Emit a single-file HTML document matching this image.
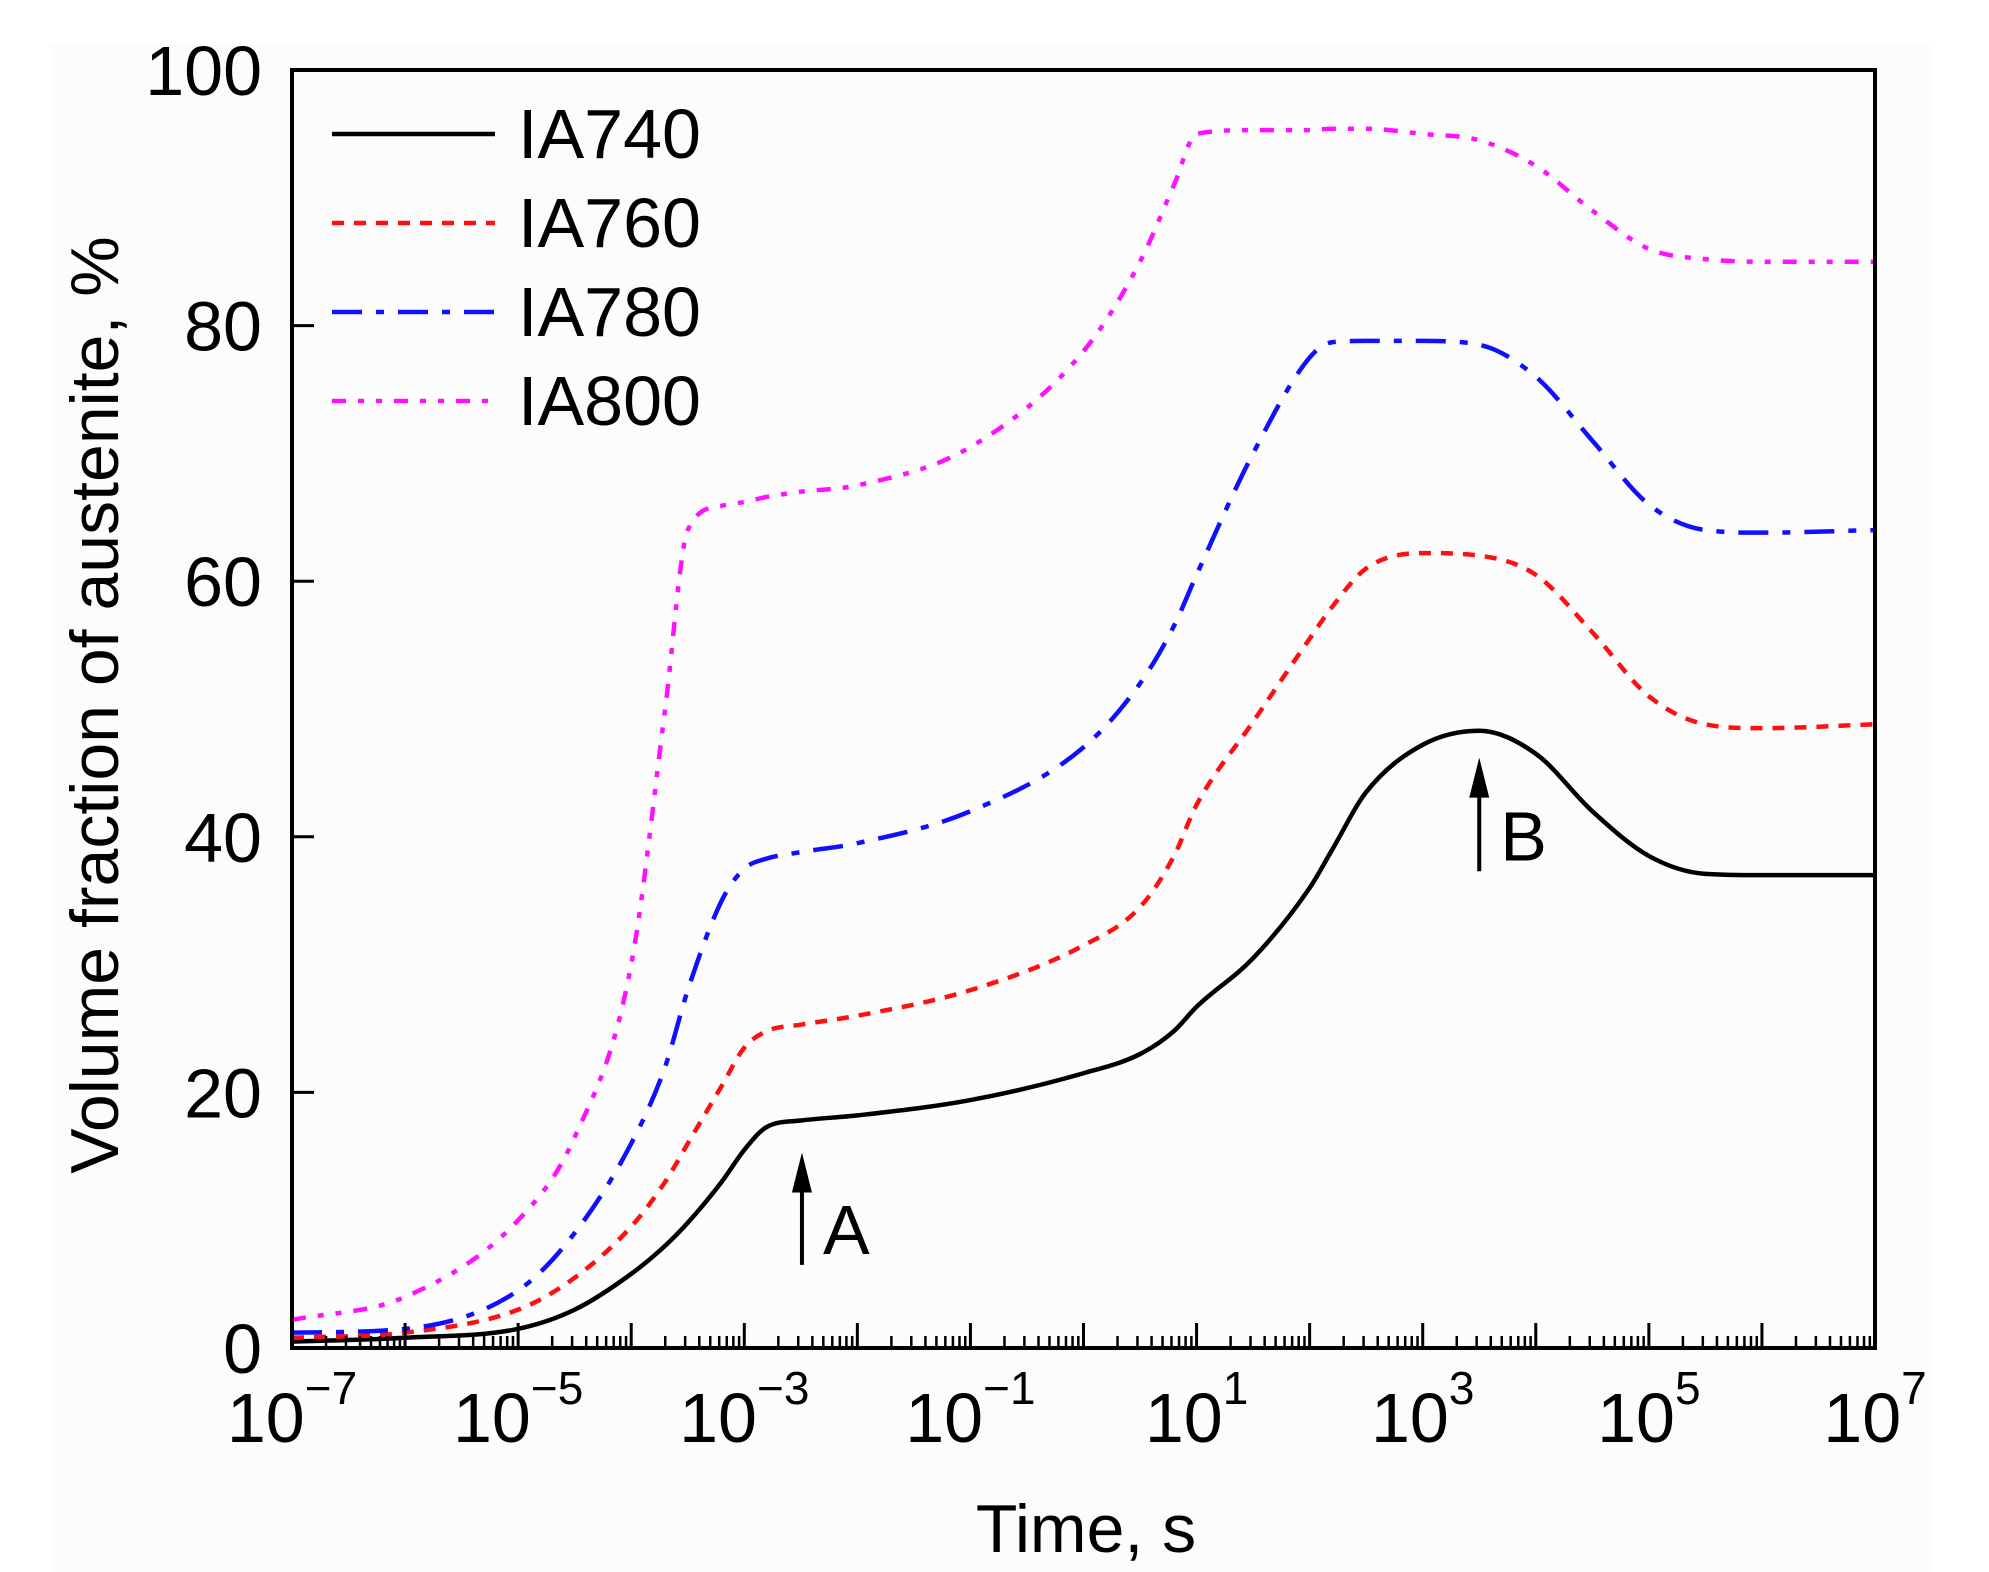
<!DOCTYPE html>
<html><head><meta charset="utf-8"><style>
html,body{margin:0;padding:0;background:#fff;}
svg{display:block;font-family:"Liberation Sans",sans-serif;}
</style></head><body>
<svg id="chart" width="1989" height="1572" viewBox="0 0 1989 1572" xmlns="http://www.w3.org/2000/svg">
<rect x="50" y="45" width="1880" height="1527" fill="#fcfcfc"/>
<g id="plot"></g>
</svg>
<script>
const xLogs = [-7,-6,-5,-4.5,-4,-3.7,-3.5,-3.2,-3,-2.8,-2.5,-2,-1,0,0.5,0.8,1,1.5,2,2.2,2.5,3,3.5,4,4.5,5,5.5,6,7];
const ia740 = [0.5,0.8,1.5,3,5.8,8,9.8,13,15.5,17.3,17.8,18.2,19.4,21.5,23,24.8,26.7,30.5,36,39,43.5,47.2,48.3,46.5,42,38.5,37.1,37,37];
const ia760 = [0.8,1.2,3,5.5,9.5,13,16,20.5,23.5,24.8,25.3,26,28,31.5,34.5,38.5,42.5,49,55.5,58,61,62.2,62,60.5,56,51,48.8,48.5,48.8];
const ia780 = [1.2,1.5,4.5,9,16,22,28,35,37.5,38.3,38.8,39.5,42,47,52,56.5,60.5,70,77.5,78.7,78.8,78.8,78.5,76,71,66,64,63.8,64];
const ia800 = [2.2,4,10,16.5,30,50,64,65.9,66.2,66.6,67,67.5,70.5,78,85,91,95,95.3,95.3,95.4,95.4,95,94.5,92.5,89,86,85.2,85,85];
const xTickExps = [-7,-5,-3,-1,1,3,5,7];
const yTicks = [0,20,40,60,80,100];
const legendNames = ["IA740","IA760","IA780","IA800"];
const arrowA = [-2.49, 6.5, 15.3];
const arrowB = [3.5, 37.3, 46.2];

const NS="http://www.w3.org/2000/svg";
const L=292,R=1875,T=70,B=1348;
const sx=v=>L+(v+7)/14*(R-L);
const sy=v=>B-v/100*(B-T);
const g=document.getElementById('plot');
function mk(tag,attrs,parent){const e=document.createElementNS(NS,tag);for(const k in attrs)e.setAttribute(k,attrs[k]);(parent||g).appendChild(e);return e;}

const series=[
 {d:ia740,c:"#000",dash:"",n:"ia740-line"},
 {d:ia760,c:"#ff1010",dash:"12 10",n:"ia760-line"},
 {d:ia780,c:"#1010ff",dash:"30 14 8 14",n:"ia780-line"},
 {d:ia800,c:"#ff10ff",dash:"14 12 6 12 6 12",n:"ia800-line"}];
// monotone cubic (Fritsch-Carlson)
function pathFor(d){
  const xs=xLogs.map(sx), ys=d.map(sy), n=xs.length;
  const dl=[],m=new Array(n);
  for(let i=0;i<n-1;i++) dl.push((ys[i+1]-ys[i])/(xs[i+1]-xs[i]));
  m[0]=dl[0]; m[n-1]=dl[n-2];
  for(let i=1;i<n-1;i++){ m[i]=(dl[i-1]*dl[i]<=0)?0:(dl[i-1]+dl[i])/2; }
  for(let i=0;i<n-1;i++){
    if(dl[i]===0){m[i]=0;m[i+1]=0;continue;}
    const a=m[i]/dl[i],b=m[i+1]/dl[i],s=a*a+b*b;
    if(s>9){const t=3/Math.sqrt(s);m[i]=t*a*dl[i];m[i+1]=t*b*dl[i];}
  }
  let p="M"+xs[0]+","+ys[0];
  for(let i=0;i<n-1;i++){
    const h=(xs[i+1]-xs[i])/3;
    p+=" C"+(xs[i]+h)+","+(ys[i]+m[i]*h)+" "+(xs[i+1]-h)+","+(ys[i+1]-m[i+1]*h)+" "+xs[i+1]+","+ys[i+1];
  }
  return p;
}
series.forEach(s=>{
  const e=mk('path',{d:pathFor(s.d),fill:"none",stroke:s.c,"stroke-width":4.5,"stroke-dasharray":s.dash});
  
  
});

const fr=mk('rect',{x:L,y:T,width:R-L,height:B-T,fill:"none",stroke:"#000","stroke-width":4});



for(let e=-7;e<7;e++){
  const mj=mk('line',{x1:sx(e),x2:sx(e),y1:B,y2:B-25,stroke:"#000","stroke-width":3});
  
  
  for(let m=2;m<10;m++){
    const xx=sx(e+Math.log10(m));
    const mn=mk('line',{x1:xx,x2:xx,y1:B,y2:B-12,stroke:"#000","stroke-width":2.5});
    
    
  }
}
xTickExps.forEach(e=>{
  const t=mk('text',{x:sx(e),y:1442,"text-anchor":"middle","font-size":70,fill:"#000"});
  
  
  t.appendChild(document.createTextNode("10"));
  const sp=mk('tspan',{dy:-38,"font-size":46},t);
  sp.textContent=(e<0?"\u2212":"")+Math.abs(e);
});
yTicks.forEach(v=>{
  const tk=mk('line',{x1:L,x2:L+22,y1:sy(v),y2:sy(v),stroke:"#000","stroke-width":3});
  
  
  const t=mk('text',{x:262,y:sy(v)+25,"text-anchor":"end","font-size":70,fill:"#000"});
  t.textContent=v;
  
  
});
const xt=mk('text',{x:1086,y:1552,"text-anchor":"middle","font-size":68,fill:"#000"});
xt.textContent="Time, s";


const yt=mk('text',{x:0,y:0,"text-anchor":"middle","font-size":68,fill:"#000",transform:"translate(118,705) rotate(-90)"});
yt.textContent="Volume fraction of austenite, %";



legendNames.forEach((n,i)=>{
  const y=134+i*89;
  const ln=mk('line',{x1:332,x2:495,y1:y,y2:y,stroke:series[i].c,"stroke-width":4.5,"stroke-dasharray":series[i].dash});
  
  
  const t=mk('text',{x:518,y:y+24,"font-size":70,fill:"#000"});
  t.textContent=n;
  
  
});

function arrow(a,label,name){
  const x=sx(a[0]),y1=sy(a[1]),y2=sy(a[2]);
  const l=mk('line',{x1:x,x2:x,y1:y1,y2:y2+38,stroke:"#000","stroke-width":4});
  
  
  const h=mk('polygon',{points:`${x},${y2} ${x-10},${y2+40} ${x+10},${y2+40}`,fill:"#000"});
  
  
  const t=mk('text',{x:x+21,y:y1-11,"font-size":70,fill:"#000"});
  t.textContent=label;
  
  
}
arrow(arrowA,"A","arrow-a");
arrow(arrowB,"B","arrow-b");
</script>
</body></html>
